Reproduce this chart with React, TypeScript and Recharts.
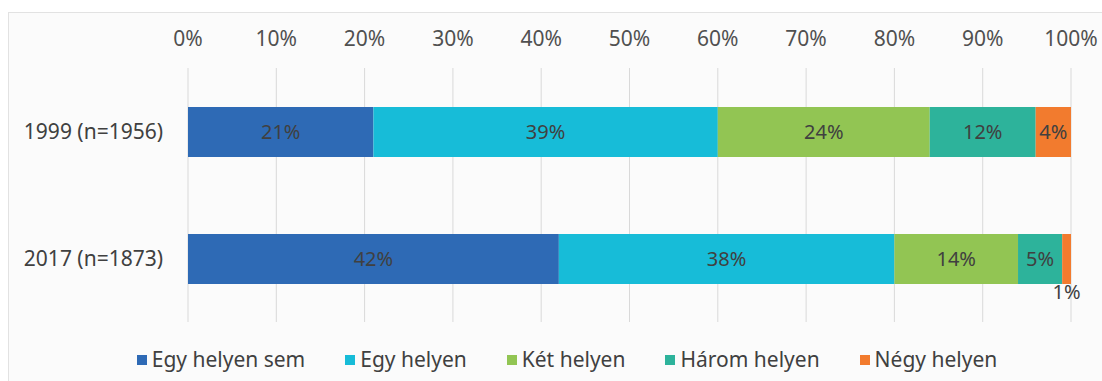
import { BarChart, Bar, XAxis, YAxis, CartesianGrid, Legend, LabelList } from 'recharts';

const CATEGORIES = ['1999 (n=1956)', '2017 (n=1873)'];

// share of respondents, %
const NOWHERE = [21, 42];
const ONE_PLACE = [39, 38];
const TWO_PLACES = [24, 14];
const THREE_PLACES = [12, 5];
const FOUR_PLACES = [4, 1];

const X_TICKS = [0, 10, 20, 30, 40, 50, 60, 70, 80, 90, 100];

const SERIES = [
  { key: 'nowhere', name: 'Egy helyen sem', values: NOWHERE, color: '#2E6AB5' },
  { key: 'one', name: 'Egy helyen', values: ONE_PLACE, color: '#17BCD8' },
  { key: 'two', name: 'Két helyen', values: TWO_PLACES, color: '#92C553' },
  { key: 'three', name: 'Három helyen', values: THREE_PLACES, color: '#2DB39B' },
  { key: 'four', name: 'Négy helyen', values: FOUR_PLACES, color: '#F27B2E' },
];

const data = CATEGORIES.map((label, i) => {
  const row: Record<string, string | number> = { label };
  SERIES.forEach((s) => {
    row[s.key] = s.values[i];
  });
  return row;
});

const FONT = '"Noto Sans", sans-serif';
const TEXT = '#404040';

const renderLabel = (props: any) => {
  const { x, y, width, height, value } = props;
  const cx = Number(x) + Number(width) / 2;
  // tiny segments get their label under the bar
  const cy = value < 2 ? Number(y) + Number(height) + 8 : Number(y) + Number(height) / 2;
  return (
    <text x={cx} y={cy} dy="0.35em" textAnchor="middle" fontFamily={FONT} fontSize={20} fill={TEXT}>
      {value}%
    </text>
  );
};

const renderLegend = (props: any) => {
  const order = SERIES.map((s) => s.name);
  const payload = [...(props.payload || [])].sort(
    (a: any, b: any) => order.indexOf(a.value) - order.indexOf(b.value)
  );
  return (
    <div
      style={{
        display: 'flex',
        justifyContent: 'center',
        gap: 40,
        fontFamily: FONT,
        fontSize: 21,
        color: TEXT,
        lineHeight: '29px',
      }}
    >
      {payload.map((entry: any) => (
        <span key={entry.value} style={{ display: 'flex', alignItems: 'center' }}>
          <span style={{ width: 10, height: 10, background: entry.color, marginRight: 5 }} />
          {entry.value}
        </span>
      ))}
    </div>
  );
};

export default function App() {
  return (
    <div style={{ position: 'absolute', left: 0, top: 0, width: 1102, height: 381, background: '#fff', overflow: 'hidden' }}>
      <div
        style={{
          position: 'absolute',
          left: 8,
          top: 12,
          width: 1100,
          height: 380,
          border: '1px solid #e2e2e2',
          background: '#fbfbfb',
        }}
      />
      <div style={{ position: 'absolute', left: 0, top: 0 }}>
        <BarChart
          width={1102}
          height={381}
          data={data}
          layout="vertical"
          margin={{ top: 0, right: 31, bottom: 59, left: 0 }}
        >
          <CartesianGrid horizontal={false} stroke="#d9d9d9" />
          <XAxis
            type="number"
            orientation="top"
            domain={[0, 100]}
            ticks={X_TICKS}
            tickFormatter={(v) => `${v}%`}
            axisLine={false}
            tickLine={false}
            tickSize={0}
            tickMargin={22}
            height={68}
            interval={0}
            tick={{ fill: '#505050', fontFamily: FONT, fontSize: 21 }}
          />
          <YAxis
            type="category"
            dataKey="label"
            axisLine={false}
            tickLine={false}
            tickSize={0}
            tickMargin={25}
            width={188}
            tick={{ fill: TEXT, fontFamily: FONT, fontSize: 21 }}
          />
          <Legend
            layout="horizontal"
            verticalAlign="middle"
            align="center"
            itemSorter={null}
            wrapperStyle={{ top: 345, left: 16, width: 1102 }}
            content={renderLegend}
          />
          {SERIES.map((s) => (
            <Bar
              key={s.key}
              dataKey={s.key}
              name={s.name}
              stackId="a"
              fill={s.color}
              barSize={50}
              isAnimationActive={false}
            >
              <LabelList dataKey={s.key} content={renderLabel} />
            </Bar>
          ))}
        </BarChart>
      </div>
    </div>
  );
}
